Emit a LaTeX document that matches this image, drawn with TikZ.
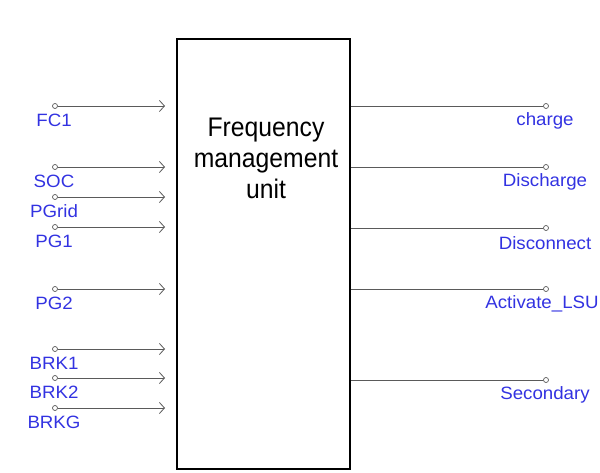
\documentclass[tikz,border=0pt]{standalone}
\usepackage{fontspec}
\setmainfont{Liberation Sans}
\usetikzlibrary{arrows.meta}
\definecolor{lblblue}{RGB}{50,50,225}
\definecolor{wire}{RGB}{90,90,90}
\tikzset{
  pinc/.style={circle,draw=wire,line width=0.7pt,inner sep=0pt,minimum size=5pt,fill=white},
  wireline/.style={draw=wire,line width=0.8pt},
  inarrow/.style={wireline,-{Straight Barb[length=5pt,width=11pt,line width=0.8pt]}},
  lbl/.style={text=lblblue,inner sep=0pt,font=\fontsize{17}{17}\selectfont},
  unitbox/.style={draw=black,line width=1.4pt,minimum width=173pt,minimum height=430pt,inner sep=0pt}
}
\newcommand{\wlbl}[1]{\scalebox{1.1}[1.05]{#1}}
\begin{document}
\begin{tikzpicture}[x=1pt,y=-1pt]
\useasboundingbox (0,0) rectangle (600,473);
\node[unitbox] (fmu) at (263.5,254) {};
\node[align=center,inner sep=0pt,font=\fontsize{24}{31}\selectfont] (fmutext) at (266,158) {\scalebox{1.03}[1.12]{Frequency}\\\scalebox{1.03}[1.12]{management}\\\scalebox{1.03}[1.12]{unit}};
% inputs
\foreach \name/\y/\txt in {fc1/106/FC1, soc/167/SOC, pgrid/197/PGrid, pg1/227/PG1, pg2/289/PG2, brk1/349/BRK1, brk2/378/BRK2, brkg/408/BRKG}{
  \node[pinc] (\name) at (55,\y) {};
  \coordinate (\name t) at (165,\y);
  \node[lbl] (\name l) at (54,\y+14) {\wlbl{\txt}};
}
\foreach \name in {fc1,soc,pgrid,pg1,pg2,brk1,brk2,brkg}{
  \draw[inarrow] (\name.east) -- (\name t);
}
% outputs
\foreach \name/\y/\dx/\txt in {chg/106/0/charge, dis/167/0/Discharge, disc/228/0/Disconnect, lsu/289/-3/Activate\_LSU, sec/380/0/Secondary}{
  \node[pinc] (\name) at (546,\y) {};
  \node[lbl] (\name l) at (545+\dx,\y+15) {\wlbl{\txt}};
  \draw[wireline] (fmu.east |- \name) -- (\name.west);
}
\end{tikzpicture}
\end{document}
